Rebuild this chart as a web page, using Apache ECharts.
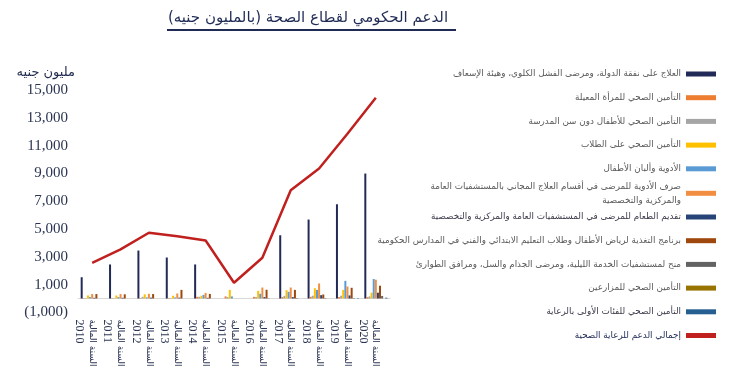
<!DOCTYPE html>
<html>
<head>
<meta charset="utf-8">
<script src="https://cdn.jsdelivr.net/npm/echarts@6/dist/echarts.min.js"></script>
<style>html,body{margin:0;padding:0;background:#fff}#c{width:735px;height:368px}</style>
</head>
<body>
<div id="c"></div>
<script>
var years = ['2010','2011','2012','2013','2014','2015','2016','2017','2018','2019','2020'];
var yearPrefix = 'السنة المالية';
var yTickLabels = {'-1000':'(1,000)','1000':'1,000','3000':'3,000','5000':'5,000','7000':'7,000','9000':'9,000','11000':'11,000','13000':'13,000','15000':'15,000'};

var s1Name = 'العلاج على نفقة الدولة، ومرضى الفشل الكلوي، وهيئة الإسعاف';
var s2Name = 'التأمين الصحي للمرأة المعيلة';
var s3Name = 'التأمين الصحي للأطفال دون سن المدرسة';
var s4Name = 'التأمين الصحي على الطلاب';
var s5Name = 'الأدوية وألبان الأطفال';
var s6Name = 'صرف الأدوية للمرضى في أقسام العلاج المجاني بالمستشفيات العامة\nوالمركزية والتخصصية';
var s7Name = 'تقديم الطعام للمرضى في المستشفيات العامة والمركزية والتخصصية';
var s8Name = 'برنامج التغذية لرياض الأطفال وطلاب التعليم الابتدائي والفني في المدارس الحكومية';
var s9Name = 'منح لمستشفيات الخدمة الليلية، ومرضى الجذام والسل، ومرافق الطوارئ';
var s10Name = 'التأمين الصحي للمزارعين';
var s11Name = 'التأمين الصحي للفئات الأولى بالرعاية';
var totalName = 'إجمالي الدعم للرعاية الصحية';

var s1 = [1530, 2450, 3450, 2950, 2450, 0, 0, 4550, 5680, 6780, 8990];
var s2 = [30, 30, 40, 40, 120, 150, 120, 100, 120, 100, 100];
var s3 = [20, 20, 120, 30, 120, 100, 100, 190, 200, 200, 150];
var s4 = [220, 220, 300, 200, 200, 620, 550, 600, 740, 620, 420];
var s5 = [100, 100, 80, 80, 260, 150, 340, 480, 620, 1270, 1400];
var s6 = [320, 320, 340, 360, 400, 0, 790, 790, 1080, 860, 1350];
var s7 = [50, 50, 60, 60, 50, 0, 100, 100, 240, 220, 420];
var s8 = [320, 300, 320, 620, 330, 0, 630, 620, 290, 770, 920];
var s9 = [0, 0, 0, 0, 0, 0, 20, 30, 30, 30, 180];
var s10 = [0, 0, 0, 0, 0, 0, 0, 0, 0, 0, 0];
var s11 = [0, 0, 0, 0, 0, 0, 0, 0, 0, 30, 60];
var total = [2570, 3530, 4730, 4480, 4170, 1130, 2930, 7790, 9350, 11850, 14440];

var barNames = [s1Name,s2Name,s3Name,s4Name,s5Name,s6Name,s7Name,s8Name,s9Name,s10Name,s11Name];
var barData = [s1,s2,s3,s4,s5,s6,s7,s8,s9,s10,s11];
var barColors = ['#222A57','#ED7D31','#A5A5A5','#FFC000','#5B9BD5','#F28E42','#264478','#9E480E','#636363','#997300','#255E91'];

var navy = '#1F2A55';
var series = barData.map(function(d,i){
  return {name: barNames[i], type:'bar', data:d, barWidth:2, barGap:'5%',
          itemStyle:{color:barColors[i]}, animation:false};
});
series.push({name: totalName, type:'line', data: total, symbol:'none', smooth:false,
  lineStyle:{color:'#C0201E', width:2.5}, itemStyle:{color:'#C0201E'}, animation:false, z:5});

var legText = {fontSize:8.8, color:'#595959', fontFamily:'DejaVu Sans', lineHeight:14};
function legendItem(n, c){ return c ? {name:n, textStyle:{color:c}} : {name:n}; }
var legBase = {orient:'vertical', align:'right', right:19, padding:0, itemWidth:30, itemHeight:5, itemGap:9.7,
  selectedMode:false, textStyle:legText, icon:'rect'};

var option = {
  backgroundColor:'#fff',
  animation:false,
  grid:{left:78, right:345, top:90, bottom:55.6, containLabel:false, outerBoundsMode:'none'},
  legend:[
    Object.assign({}, legBase, {top:67, data:[s1Name,s2Name,s3Name,s4Name,s5Name]}),
    Object.assign({}, legBase, {top:179.3, data:[s6Name]}),
    Object.assign({}, legBase, {top:210, data:[legendItem(s7Name,'#3a3a4a'),s8Name,s9Name,s10Name,legendItem(s11Name,'#3a3a4a'),{name:totalName, icon:'rect', itemHeight:3, textStyle:{color:navy}}]})
  ],
  xAxis:{type:'category', data:years,
    axisLine:{onZero:true, lineStyle:{color:'#D9D9D9', width:1}},
    axisTick:{show:false},
    axisLabel:{interval:0, rotate:-90, margin:7, hideOverlap:false,
      formatter:function(v){ return '{e| }\n{a|'+yearPrefix+'}\n{y|'+v+'}'; },
      rich:{
        e:{fontSize:9, lineHeight:13},
        a:{fontSize:9, lineHeight:13, color:'#2B3553', fontFamily:'DejaVu Sans'},
        y:{fontSize:12, lineHeight:13, color:'#2B3553', fontFamily:'Liberation Serif'}
      }}
  },
  yAxis:{type:'value', min:-1000, max:15000, interval:1000,
    axisLine:{show:false}, axisTick:{show:false}, splitLine:{show:false},
    axisLabel:{margin:10, fontSize:15, color:'#2B3553', fontFamily:'Liberation Serif',
      formatter:function(v){ var k = String(v); return yTickLabels[k] !== undefined ? yTickLabels[k] : ''; }}
  },
  graphic:[
    {type:'text', x:308, y:18, style:{text:'الدعم الحكومي لقطاع الصحة (بالمليون جنيه)', fill:navy, fontSize:15, fontFamily:'DejaVu Sans', align:'center', verticalAlign:'middle'}},
    {type:'rect', shape:{x:167, y:29, width:289, height:2}, style:{fill:navy}},
    {type:'text', x:75, y:73, style:{text:'مليون جنيه', fill:'#1F2A4D', fontSize:13, fontFamily:'DejaVu Sans', align:'right', verticalAlign:'middle'}}
  ],
  series:series
};
var chart = echarts.init(document.getElementById('c'), null, {renderer:'canvas'});
chart.setOption(option);
</script>
</body>
</html>
